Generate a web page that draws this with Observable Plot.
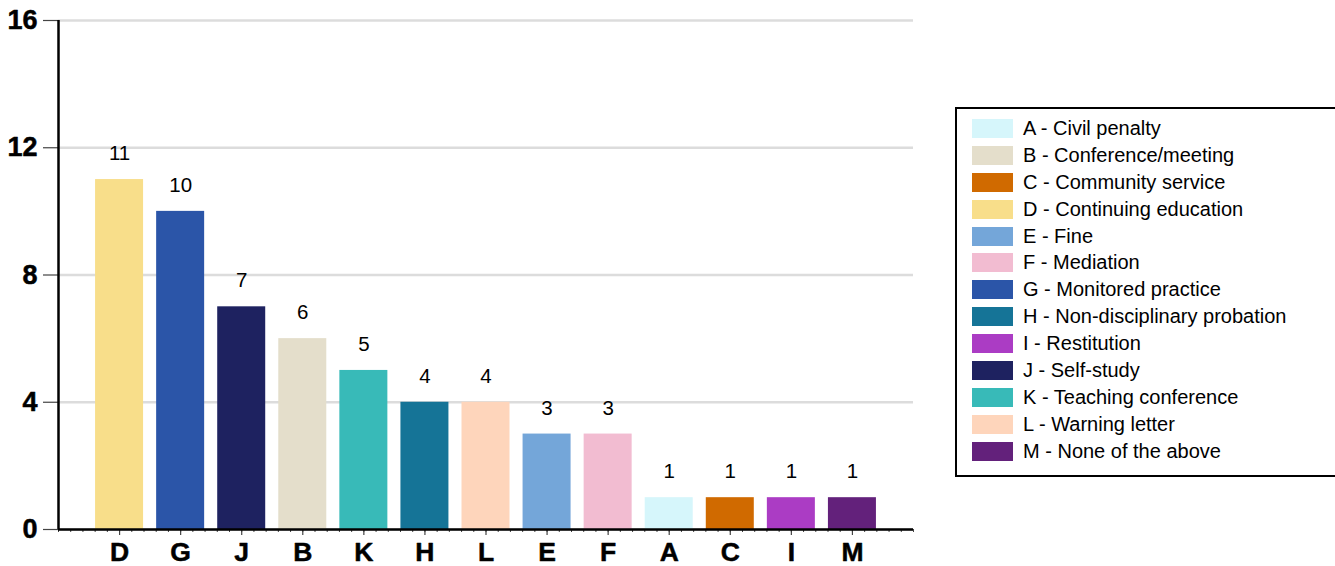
<!DOCTYPE html>
<html>
<head>
<meta charset="utf-8">
<script src="https://cdn.jsdelivr.net/npm/d3@7"></script>
<script src="https://cdn.jsdelivr.net/npm/@observablehq/plot@0.6"></script>
<style>
  html, body { margin: 0; padding: 0; background: #fff; overflow: hidden; }
  body { width: 1335px; height: 566px; position: relative; font-family: "Liberation Sans", Arial, sans-serif; }
  #chart { position: absolute; left: 0; top: 0; }
  #legend { position: absolute; left: 955px; top: 107px; width: 400px; height: 370px; border: 2px solid #000; box-sizing: border-box; padding: 6px 0 0 15px; }
  .row { display: flex; align-items: center; height: 26.9px; }
  .sw { width: 41px; height: 19px; margin-right: 10px; flex: none; }
  .lab { font-size: 20px; color: #000; white-space: nowrap; }
</style>
</head>
<body>
<div id="chart"></div>
<div id="legend"></div>
<script>
const categories = ["D", "G", "J", "B", "K", "H", "L", "E", "F", "A", "C", "I", "M"];
const values = [11, 10, 7, 6, 5, 4, 4, 3, 3, 1, 1, 1, 1];
const legendKeys = ["A", "B", "C", "D", "E", "F", "G", "H", "I", "J", "K", "L", "M"];
const legendNames = ["Civil penalty", "Conference/meeting", "Community service", "Continuing education", "Fine", "Mediation", "Monitored practice", "Non-disciplinary probation", "Restitution", "Self-study", "Teaching conference", "Warning letter", "None of the above"];
const legendColors = ["#d6f6fb", "#e4decb", "#d06a00", "#f8de8a", "#74a6d9", "#f2bcd1", "#2b55a8", "#157497", "#ab3cc4", "#1e2260", "#38bab8", "#fed5bb", "#63217b"];
const yTicks = [0, 4, 8, 12, 16];

const colorOf = Object.fromEntries(legendKeys.map((k, i) => [k, legendColors[i]]));
const half = 0.393;
const data = categories.map((c, i) => ({cat: c, pos: i + 1, value: values[i]}));
const nSlots = categories.length + 1;
const minorTicks = d3.range(0, nSlots * 5 + 1).map(k => k / 5);
const majorTicks = data.map(d => d.pos);

const chart = Plot.plot({
  width: 940,
  height: 566,
  marginTop: 20,
  marginBottom: 37,
  marginLeft: 58,
  marginRight: 27,
  style: {fontFamily: "'Liberation Sans', Arial, sans-serif", background: "#fff"},
  x: {type: "linear", domain: [0, nSlots], axis: null},
  y: {domain: [0, 16], axis: null},
  marks: [
    Plot.gridY(yTicks, {stroke: "#dcdcdc", strokeOpacity: 1, strokeWidth: 2.5}),
    Plot.rectY(data, {x1: d => d.pos - half, x2: d => d.pos + half, y: "value", fill: d => colorOf[d.cat]}),
    Plot.text(data, {x: "pos", y: "value", text: d => String(d.value), dy: -26, fontSize: 20.5, fill: "#000"}),
    Plot.axisY({ticks: yTicks, tickSize: 15, tickFormat: () => "", label: null, stroke: "#444", strokeWidth: 1.2}),
    Plot.text(yTicks, {x: 0, y: d => d, dx: -21, textAnchor: "end", text: d => String(d), fontSize: 27, fontWeight: "bold", fill: "#000", stroke: "#000", strokeWidth: 0.5}),
    Plot.axisX({ticks: minorTicks, tickSize: 3, tickFormat: () => "", label: null, stroke: "#444", strokeWidth: 1}),
    Plot.axisX({ticks: majorTicks, tickSize: 6, tickFormat: () => "", label: null, stroke: "#444", strokeWidth: 1.2}),
    Plot.text(data, {x: "pos", y: 0, dy: 23, text: "cat", fontSize: 26.5, fontWeight: "bold", fill: "#000", stroke: "#000", strokeWidth: 0.5}),
    Plot.ruleY([0], {stroke: "#000", strokeWidth: 2.5}),
    Plot.ruleX([0], {stroke: "#000", strokeWidth: 2.5})
  ]
});
document.getElementById("chart").appendChild(chart);

const legend = document.getElementById("legend");
legendKeys.forEach((k, i) => {
  const row = document.createElement("div");
  row.className = "row";
  const sw = document.createElement("div");
  sw.className = "sw";
  sw.style.background = legendColors[i];
  const lab = document.createElement("div");
  lab.className = "lab";
  lab.textContent = k + " - " + legendNames[i];
  row.appendChild(sw);
  row.appendChild(lab);
  legend.appendChild(row);
});
</script>
</body>
</html>
